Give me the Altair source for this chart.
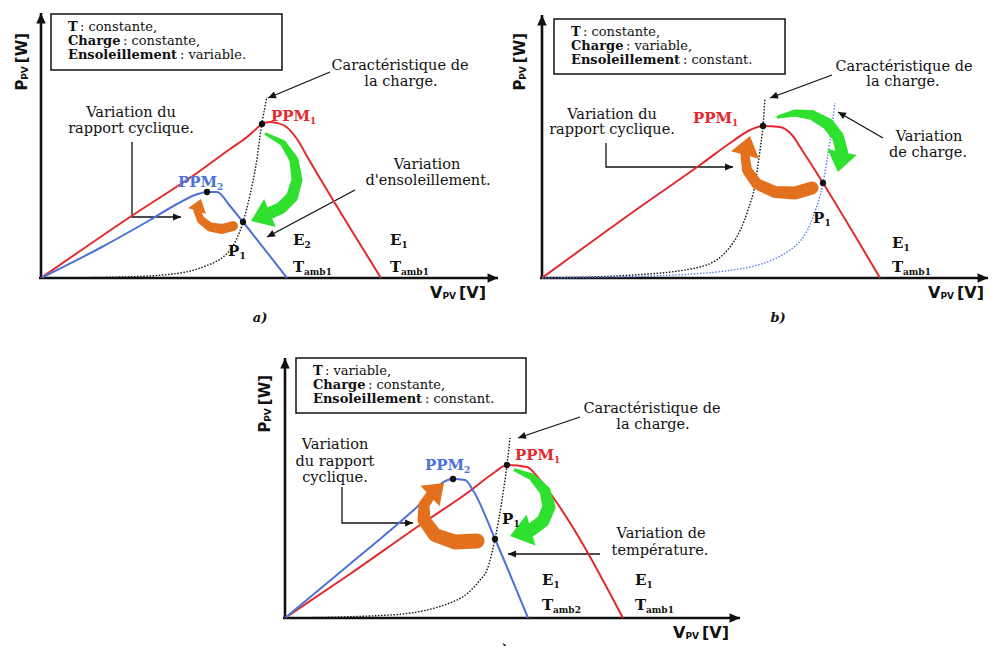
import math
import altair as alt
import pandas as pd

RED, BLUE, GREEN, ORANGE, INK = "#e22a2e", "#4c72d8", "#2fe02f", "#e3701c", "#111111"
LOADBLUE = "#5b7fe0"
SERIF, SANS = "DejaVu Serif", "DejaVu Sans"

# ---------------- data (panel-local units, origin at the axes crossing) ----------------
# a) irradiance varies
a_red_v = [0, 89, 156, 189, 206, 214, 221, 229, 236, 244, 256, 267, 340]
a_red_p = [0, 61, 105, 129, 141, 148, 154, 156, 155, 152, 139, 120, 0]
a_blue_v = [0, 59, 109, 136, 154, 166, 176, 189, 202, 246]
a_blue_p = [0, 30, 58, 74, 83, 86, 86, 72, 56, 0]
a_load_v = [0, 79, 122, 162, 189, 202, 209, 215, 221, 226]
a_load_p = [0, 1, 3, 11, 28, 56, 83, 113, 155, 181]
a_dots_v = [221, 166, 202]
a_dots_p = [154, 86, 56]

# b) load varies
b_red_v = [0, 98, 158, 191, 208, 221, 238, 250, 260, 338]
b_red_p = [0, 71, 113, 137, 148, 152, 151, 143, 128, 0]
b_load1_v = [0, 91, 158, 191, 206, 213, 218, 221, 223]
b_load1_p = [0, 3, 11, 35, 68, 93, 128, 152, 180]
b_load2_v = [0, 108, 191, 248, 271, 281, 288, 293]
b_load2_p = [0, 2, 8, 28, 61, 95, 138, 175]
b_dots_v = [221, 281]
b_dots_p = [152, 95]

# c) temperature varies
c_red_v = [0, 65, 135, 185, 210, 222, 242, 255, 272, 338]
c_red_p = [0, 44, 93, 127, 146, 153, 151, 138, 115, 0]
c_blue_v = [0, 65, 115, 145, 157, 168, 180, 189, 210, 243]
c_blue_p = [0, 54, 96, 123, 135, 139, 138, 126, 79, 0]
c_load_v = [0, 105, 172, 195, 202, 210, 217, 222, 225]
c_load_p = [0, 3, 18, 38, 48, 79, 118, 153, 180]
c_dots_v = [222, 168, 210]
c_dots_p = [153, 139, 79]

box_a = [("T", ": constante,"), ("Charge", ": constante,"), ("Ensoleillement", ": variable.")]
box_b = [("T", ": constante,"), ("Charge", ": variable,"), ("Ensoleillement", ": constant.")]
box_c = [("T", ": variable,"), ("Charge", ": constante,"), ("Ensoleillement", ": constant.")]

notes_a = [(90, 165, "Variation du"), (90, 149, "rapport cyclique."),
           (359, 212, "Caractéristique de"), (360, 196, "la charge."),
           (386, 113, "Variation"), (387, 97, "d'ensoleillement.")]
notes_b = [(70, 163, "Variation du"), (70, 148, "rapport cyclique."),
           (362, 211, "Caractéristique de"), (361, 196, "la charge."),
           (387, 141, "Variation"), (386, 125, "de charge.")]
notes_c = [(50, 173, "Variation"), (50, 156, "du rapport"), (50, 140, "cyclique."),
           (367, 209, "Caractéristique de"), (368, 193, "la charge."),
           (376, 84, "Variation de"), (375, 67, "température.")]

labels_a = [(230, 162, "PPM", "1", RED), (137, 96, "PPM", "2", BLUE), (187, 27, "P", "1", INK),
            (252, 38, "E", "2", INK), (252, 11, "T", "amb1", INK),
            (349, 38, "E", "1", INK), (349, 11, "T", "amb1", INK)]
labels_b = [(151, 160, "PPM", "1", RED), (271, 60, "P", "1", INK),
            (350, 35, "E", "1", INK), (350, 11, "T", "amb1", INK)]
labels_c = [(230, 163, "PPM", "1", RED), (140, 153, "PPM", "2", BLUE), (217, 99, "P", "1", INK),
            (257, 38, "E", "1", INK), (257, 13, "T", "amb2", INK),
            (350, 38, "E", "1", INK), (350, 13, "T", "amb1", INK)]

leaders_a = [[(289, 206), (227, 180)], [(91, 136), (91, 61), (140, 61)], [(314, 88), (226, 41)]]
leaders_b = [[(290, 203), (228, 180)], [(64, 135), (64, 111), (191, 111)], [(341, 140), (296, 166)]]
leaders_c = [[(295, 201), (233, 180)], [(57, 131), (57, 95), (128, 95)], [(315, 64), (223, 64)]]

# curved (thick) arrows: centre line, widths, tip
arrows_a = [
    (GREEN, [(225, 144), (242, 135), (253, 118), (256, 98), (251, 81), (240, 70), (229, 65)],
     [3, 6, 9, 11, 12, 12, 12], (210, 57)),
    (ORANGE, [(192, 52), (181, 49), (169, 51), (160, 58), (156, 67)], [10, 10, 9, 8, 7], (160, 79)),
]
arrows_b = [
    (GREEN, [(236, 161), (253, 165), (270, 163), (286, 154), (296, 141), (300, 126)],
     [3, 7, 10, 12, 12, 12], (296, 106)),
    (ORANGE, [(270, 90), (253, 85), (233, 86), (215, 94), (205, 108), (203, 123)],
     [13, 13, 12, 11, 10, 9], (208, 142)),
]
arrows_c = [
    (GREEN, [(230, 148), (247, 141), (260, 127), (264, 111), (258, 97), (246, 88)],
     [3, 7, 11, 13, 13, 13], (225, 82)),
    (ORANGE, [(192, 77), (170, 76), (150, 83), (139, 98), (139, 113), (145, 122)],
     [15, 15, 14, 13, 11, 10], (159, 135)),
]

PANELS = [
    dict(width=492, height=322, xd=[-33, 459], yd=[-52, 270],
         solid=[(a_red_v, a_red_p, RED), (a_blue_v, a_blue_p, BLUE)],
         dotted=[(a_load_v, a_load_p, INK)], dots=(a_dots_v, a_dots_p),
         box=box_a, box_rect=(10, 241, 264, 208), box_at=(27, 251),
         notes=notes_a, labels=labels_a, leaders=leaders_a, arrows=arrows_a,
         yaxis_top=265, xaxis_end=457, ylab=(-19, 193), xlab=(389, -15), tag=(219, -40, "a)")),
    dict(width=490, height=322, xd=[-42, 448], yd=[-52, 270],
         solid=[(b_red_v, b_red_p, RED)],
         dotted=[(b_load1_v, b_load1_p, INK), (b_load2_v, b_load2_p, LOADBLUE)], dots=(b_dots_v, b_dots_p),
         box=box_b, box_rect=(12, 243, 259, 204), box_at=(29, 246),
         notes=notes_b, labels=labels_b, leaders=leaders_b, arrows=arrows_b,
         yaxis_top=263, xaxis_end=446, ylab=(-22, 193), xlab=(386, -15), tag=(236, -40, "b)")),
    dict(width=982, height=316, xd=[-277, 705], yd=[-28, 288],
         solid=[(c_red_v, c_red_p, RED), (c_blue_v, c_blue_p, BLUE)],
         dotted=[(c_load_v, c_load_p, INK)], dots=(c_dots_v, c_dots_p),
         box=box_c, box_rect=(11, 241, 260, 205), box_at=(28, 247),
         notes=notes_c, labels=labels_c, leaders=leaders_c, arrows=arrows_c,
         yaxis_top=260, xaxis_end=455, ylab=(-20, 191), xlab=(388, -15), tag=(215, -31, "c)")),
]

BOLD_W = {"T": 12, "Charge": 55, "Ensoleillement": 112}
MAIN_W = {"PPM": 39, "P": 11.5, "E": 11.5, "T": 11}
LEADER_HEAD = "M0,0L-2.2,-1L-2.2,1Z"
BIG_HEAD = "M0,0L-1.5,-1.1L-1.5,1.1Z"


def screen_angle(p_from, p_to):
    dx = p_to[0] - p_from[0]
    dy = -(p_to[1] - p_from[1])
    return math.degrees(math.atan2(dy, dx)) % 360


def build_panel(P):
    X = alt.X("v:Q", scale=alt.Scale(domain=P["xd"], nice=False, zero=False), axis=None)
    Y = alt.Y("p:Q", scale=alt.Scale(domain=P["yd"], nice=False, zero=False), axis=None)
    col = alt.Color("color:N", scale=None)
    layers = []

    # box
    x0, x1, y0, y1 = P["box_rect"]
    box_df = pd.DataFrame([dict(v=x0, v2=x1, p=y0, p2=y1)])
    layers.append(alt.Chart(box_df).mark_rect(fill="white", stroke=INK, strokeWidth=1.5, clip=True)
                  .encode(x=X, x2="v2:Q", y=Y, y2="p2:Q"))

    # segments: axes + leaders
    seg_rows, lead_heads, axis_heads = [], [], []
    sid = 0
    axes = [[(0, -1), (0, P["yaxis_top"])], [(-2, 0), (P["xaxis_end"], 0)]]
    for pts in axes:
        for i, (v, p) in enumerate(pts):
            seg_rows.append(dict(v=v, p=p, id=sid, i=i, sw=2.6))
        axis_heads.append(dict(v=pts[-1][0], p=pts[-1][1], ang=screen_angle(pts[-2], pts[-1])))
        sid += 1
    for pts in P["leaders"]:
        for i, (v, p) in enumerate(pts):
            seg_rows.append(dict(v=v, p=p, id=sid, i=i, sw=1.3))
        lead_heads.append(dict(v=pts[-1][0], p=pts[-1][1], ang=screen_angle(pts[-2], pts[-1])))
        sid += 1
    layers.append(alt.Chart(pd.DataFrame(seg_rows)).mark_line(color=INK, clip=True)
                  .encode(x=X, y=Y, detail="id:N", order="i:Q",
                          strokeWidth=alt.StrokeWidth("sw:Q", scale=None)))
    layers.append(alt.Chart(pd.DataFrame(axis_heads))
                  .mark_point(shape=LEADER_HEAD, filled=True, color=INK, opacity=1, size=90, clip=True)
                  .encode(x=X, y=Y, angle=alt.Angle("ang:Q", scale=None)))
    layers.append(alt.Chart(pd.DataFrame(lead_heads))
                  .mark_point(shape=LEADER_HEAD, filled=True, color=INK, opacity=1, size=52, clip=True)
                  .encode(x=X, y=Y, angle=alt.Angle("ang:Q", scale=None)))

    # curves
    rows = []
    for k, (vs, ps, c) in enumerate(P["solid"]):
        for i, (v, p) in enumerate(zip(vs, ps)):
            rows.append(dict(v=v, p=p, id=k, i=i, color=c))
    layers.append(alt.Chart(pd.DataFrame(rows)).mark_line(interpolate="monotone", strokeWidth=2, clip=True)
                  .encode(x=X, y=Y, color=col, detail="id:N", order="i:Q"))
    rows = []
    for k, (vs, ps, c) in enumerate(P["dotted"]):
        for i, (v, p) in enumerate(zip(vs, ps)):
            rows.append(dict(v=v, p=p, id=k, i=i, color=c))
    layers.append(alt.Chart(pd.DataFrame(rows))
                  .mark_line(interpolate="monotone", strokeWidth=1.4, strokeDash=[1.5, 1.6], clip=True)
                  .encode(x=X, y=Y, color=col, detail="id:N", order="i:Q"))

    # thick curved arrows
    trail_rows, head_rows = [], []
    for k, (c, pts, ws, tip) in enumerate(P["arrows"]):
        for i, ((v, p), w) in enumerate(zip(pts, ws)):
            trail_rows.append(dict(v=v, p=p, w=w, id=k, i=i, color=c))
        last = pts[-1]
        dist = math.hypot(tip[0] - last[0], tip[1] - last[1])
        s = dist / 1.5
        head_rows.append(dict(v=tip[0], p=tip[1], ang=screen_angle(last, tip), size=4 * s * s, color=c))
    layers.append(alt.Chart(pd.DataFrame(trail_rows)).mark_trail(clip=True)
                  .encode(x=X, y=Y, color=col, detail="id:N", order="i:Q",
                          size=alt.Size("w:Q", scale=None)))
    layers.append(alt.Chart(pd.DataFrame(head_rows))
                  .mark_point(shape=BIG_HEAD, filled=True, opacity=1, clip=True)
                  .encode(x=X, y=Y, color=col, angle=alt.Angle("ang:Q", scale=None),
                          size=alt.Size("size:Q", scale=None)))

    # dots
    dv, dp = P["dots"]
    layers.append(alt.Chart(pd.DataFrame(dict(v=dv, p=dp)))
                  .mark_point(shape="circle", filled=True, color=INK, opacity=1, size=40, clip=True)
                  .encode(x=X, y=Y))

    # texts
    T = []

    def add(v, p, text, size, font=SERIF, weight="normal", style="normal", align="left", color=INK, angle=0):
        T.append(dict(v=v, p=p, text=text, size=size, font=font, weight=weight, style=style,
                      align=align, color=color, angle=angle))

    bx, bp = P["box_at"]
    for k, (b, n) in enumerate(P["box"]):
        add(bx, bp - 14 * k, b, 13, weight="bold")
        add(bx + BOLD_W[b], bp - 14 * k, n, 13)
    for v, p, t in P["notes"]:
        add(v, p, t, 14.5, align="center")
    for v, p, main, sub, c in P["labels"]:
        add(v, p, main, 15, weight="bold", color=c)
        add(v + MAIN_W[main], p - 5, sub, 9, weight="bold", color=c)
    yv, yp = P["ylab"]
    add(yv, yp, "P", 15, font=SANS, weight="bold", align="center", angle=270)
    add(yv + 3, yp + 12, "PV", 9, font=SANS, weight="bold", align="center", angle=270)
    add(yv, yp + 37, "[W]", 15, font=SANS, weight="bold", align="center", angle=270)
    xv, xp = P["xlab"]
    add(xv, xp, "V", 16, font=SANS, weight="bold")
    add(xv + 12.5, xp - 3, "PV", 9, font=SANS, weight="bold")
    add(xv + 29, xp, "[V]", 16, font=SANS, weight="bold")
    tv, tp, tt = P["tag"]
    add(tv, tp, tt, 13, weight="bold", style="italic", align="center")

    tdf = pd.DataFrame(T)
    for (font, weight, style, align), g in tdf.groupby(["font", "weight", "style", "align"]):
        layers.append(alt.Chart(g.reset_index(drop=True))
                      .mark_text(font=font, fontWeight=weight, fontStyle=style, align=align,
                                 baseline="middle", clip=True)
                      .encode(x=X, y=Y, text="text:N", color=col,
                              size=alt.Size("size:Q", scale=None),
                              angle=alt.Angle("angle:Q", scale=None)))

    return alt.layer(*layers).properties(width=P["width"], height=P["height"])


pa, pb, pc = (build_panel(P) for P in PANELS)
top = alt.hconcat(pa, pb, spacing=0)
chart = (alt.vconcat(top, pc, spacing=0)
         .properties(padding=0)
         .configure_view(stroke=None, fill="white"))

chart.save("out.html", embed_options={"renderer": "svg", "actions": False})
